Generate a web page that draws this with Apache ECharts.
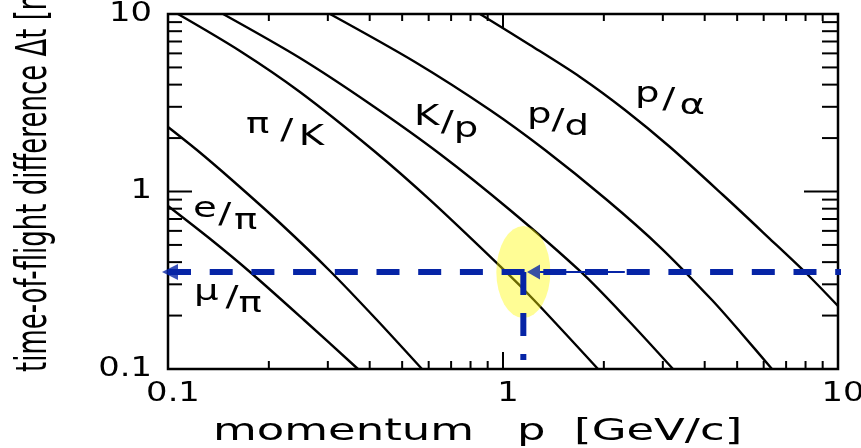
<!DOCTYPE html>
<html>
<head>
<meta charset="utf-8">
<script src="https://cdn.jsdelivr.net/npm/echarts@6/dist/echarts.min.js"></script>
<style>
  html, body { margin: 0; padding: 0; background: #fff; }
  #chart { width: 861px; height: 448px; }
</style>
</head>
<body>
<div id="chart"></div>
<script>
// Axis ranges (both logarithmic)
const momentumRange = [0.1, 10];   // GeV/c
const deltaTRange = [0.1, 10];     // ns
const majorTicks = [0.1, 1, 10];
const minorTicks = [0.2, 0.3, 0.4, 0.5, 0.6, 0.7, 0.8, 0.9, 2, 3, 4, 5, 6, 7, 8, 9];
const tickLabels = ['0.1', '1', '10'];

// Time-of-flight difference curves: [momentum, Δt]
const muPi = [[0.1, 0.829], [0.1326, 0.547], [0.1757, 0.352], [0.2547, 0.1888], [0.369, 0.1]];
const ePi = [[0.1, 2.31], [0.122, 1.713], [0.1552, 1.161], [0.2159, 0.6646], [0.3045, 0.3566], [0.4177, 0.1913], [0.573, 0.1]];
const piK = [[0.1071, 10], [0.164, 6.19], [0.2477, 3.636], [0.409, 1.713], [0.6054, 0.896], [1.021, 0.352], [1.237, 0.2446], [1.921, 0.1]];
const kP = [[0.146, 10], [0.2477, 5.65], [0.401, 3.112], [0.6485, 1.627], [1.049, 0.7866], [1.709, 0.352], [2.345, 0.1913], [3.217, 0.1]];
const pD = [[0.3045, 10], [0.5463, 5.365], [0.9146, 2.879], [1.335, 1.713], [2.044, 0.896], [2.943, 0.4867], [4.206, 0.2446], [5.169, 0.1575], [6.353, 0.1]];
const pAlpha = [[0.8537, 10], [1.204, 6.69], [1.698, 4.417], [2.313, 2.879], [3.151, 1.781], [4.537, 0.9556], [6.18, 0.554], [8.025, 0.3474], [10, 0.2265]];

// Working point: p ≈ 1.15 GeV/c, Δt ≈ 0.35 ns
const markerP = 1.15;
const markerDt = 0.352;
const markerDtEnd = 0.1124;
const guideP = [0.1, 12];
const arrowP = [0.1014, 1.233];
const connectorP = [1.29, 2.31];

const BLUE = '#0624a6';
const FONT = '"DejaVu Sans", sans-serif';

const chart = echarts.init(document.getElementById('chart'), null, { renderer: 'canvas' });

function curve(name, data) {
  return {
    name, type: 'line', data, symbol: 'none', smooth: 0.3,
    lineStyle: { color: '#000', width: 2.4 }, z: 3, silent: true
  };
}

function fractionLabel(num, den, x, y, padL, padR) {
  const base = { fontSize: 28, fontFamily: FONT, fill: '#000', lineHeight: 28 };
  return {
    type: 'text', x, y, scaleX: 1.38, silent: true,
    style: {
      text: '{n|' + num + '}{s|/}{d|' + den + '}',
      align: 'left', textAlign: 'left', verticalAlign: 'top', textVerticalAlign: 'top',
      rich: {
        n: Object.assign({}, base, { verticalAlign: 'top' }),
        s: Object.assign({}, base, { lineHeight: 40, verticalAlign: 'middle', padding: [0, padR, 0, padL] }),
        d: Object.assign({}, base, { verticalAlign: 'bottom' })
      }
    }
  };
}

function tickLine(x1, y1, x2, y2) {
  return { type: 'line', shape: { x1, y1, x2, y2 }, style: { stroke: '#000', lineWidth: 2 } };
}

const option = {
  animation: false,
  grid: {
    left: 168, right: 23, top: 14, bottom: 79,
    show: true, borderColor: '#000', borderWidth: 2.5, backgroundColor: 'transparent'
  },
  xAxis: {
    type: 'log', logBase: 10, min: momentumRange[0], max: momentumRange[1],
    axisLine: { show: false }, axisTick: { show: false }, axisLabel: { show: false }, splitLine: { show: false }
  },
  yAxis: {
    type: 'log', logBase: 10, min: deltaTRange[0], max: deltaTRange[1],
    axisLine: { show: false }, axisTick: { show: false }, axisLabel: { show: false }, splitLine: { show: false }
  },
  series: [
    curve('μ/π', muPi),
    curve('e/π', ePi),
    curve('π/K', piK),
    curve('K/p', kP),
    curve('p/d', pD),
    curve('p/α', pAlpha),
    {
      name: 'working point', type: 'scatter', data: [[markerP, markerDt]],
      symbol: 'circle', symbolSize: [54, 92], z: 4, silent: true,
      itemStyle: { color: 'rgba(255,251,0,0.52)' }
    },
    {
      name: 'Δt guide', type: 'line', data: [[guideP[0], markerDt], [guideP[1], markerDt]],
      symbol: 'none', clip: false, z: 5, silent: true,
      lineStyle: { color: BLUE, width: 6, type: [23, 18.7], cap: 'butt' }
    },
    {
      name: 'p guide', type: 'line', data: [[markerP, markerDt], [markerP, markerDtEnd]],
      symbol: 'none', clip: false, z: 5, silent: true,
      lineStyle: { color: BLUE, width: 6, type: [23, 18], cap: 'butt' }
    },
    {
      name: 'connector', type: 'line', data: [[connectorP[0], markerDt], [connectorP[1], markerDt]],
      symbol: 'none', clip: false, z: 5, silent: true,
      lineStyle: { color: BLUE, width: 2 }
    },
    {
      name: 'arrows', type: 'scatter', clip: false, z: 6, silent: true,
      symbol: 'triangle', symbolRotate: 90,
      data: [
        { value: [arrowP[0], markerDt], symbolSize: [16, 16] },
        { value: [arrowP[1], markerDt], symbolSize: [15, 13] }
      ],
      itemStyle: { color: BLUE }
    },
    {
      // ticks on the bottom and top edges
      name: 'x ticks', type: 'custom', clip: false, z: 7, silent: true,
      data: [1].concat(minorTicks).map(v => [v, 1]),
      renderItem: (params, api) => {
        const v = api.value(0);
        const major = majorTicks.indexOf(v) >= 0;
        const b = api.coord([v, deltaTRange[0]]);
        const t = api.coord([v, deltaTRange[1]]);
        return {
          type: 'group', children: [
            tickLine(b[0], b[1], b[0], b[1] - (major ? 17 : 8)),
            tickLine(t[0], t[1], t[0], t[1] + (major ? 15 : 7))
          ]
        };
      }
    },
    {
      // ticks on the left and right edges
      name: 'y ticks', type: 'custom', clip: false, z: 7, silent: true,
      data: [1].concat(minorTicks).map(v => [1, v]),
      renderItem: (params, api) => {
        const v = api.value(1);
        const major = majorTicks.indexOf(v) >= 0;
        const l = api.coord([momentumRange[0], v]);
        const r = api.coord([momentumRange[1], v]);
        return {
          type: 'group', children: [
            tickLine(l[0], l[1], l[0] + (major ? 24 : 14), l[1]),
            tickLine(r[0], r[1], r[0] - (major ? 34 : 16), r[1])
          ]
        };
      }
    },
    {
      name: 'x labels', type: 'custom', clip: false, z: 7, silent: true,
      data: majorTicks.map(v => [v, 1]),
      renderItem: (params, api) => {
        const c = api.coord([api.value(0), deltaTRange[0]]);
        return {
          type: 'text', x: c[0] + 5, y: c[1] + 25, scaleX: 1.3,
          style: {
            text: tickLabels[params.dataIndex], font: '26px ' + FONT, fill: '#000',
            align: 'center', textAlign: 'center', verticalAlign: 'middle', textVerticalAlign: 'middle'
          }
        };
      }
    },
    {
      name: 'y labels', type: 'custom', clip: false, z: 7, silent: true,
      data: majorTicks.map(v => [1, v]),
      renderItem: (params, api) => {
        const c = api.coord([momentumRange[0], api.value(1)]);
        return {
          type: 'text', x: c[0] - 16, y: c[1], scaleX: 1.3,
          style: {
            text: tickLabels[params.dataIndex], font: '26px ' + FONT, fill: '#000',
            align: 'right', textAlign: 'right', verticalAlign: 'middle', textVerticalAlign: 'middle'
          }
        };
      }
    }
  ],
  graphic: [
    {
      type: 'text', x: 213, y: 432, scaleX: 1.45, silent: true,
      style: {
        text: 'momentum   p  [GeV/c]', font: '31px ' + FONT, fill: '#000',
        align: 'left', textAlign: 'left', verticalAlign: 'middle', textVerticalAlign: 'middle'
      }
    },
    {
      type: 'text', x: 35, y: 372, rotation: Math.PI / 2, scaleY: 1.62, silent: true,
      style: {
        text: 'time-of-flight difference Δt [ns]', font: '26px ' + FONT, fill: '#000',
        align: 'left', textAlign: 'left', verticalAlign: 'middle', textVerticalAlign: 'middle'
      }
    },
    fractionLabel('π', 'K', 246, 112, 8, 4),
    fractionLabel('K', 'p', 414, 104, 1, 0),
    fractionLabel('p', 'd', 527, 102, 0, 0),
    fractionLabel('p', 'α', 635, 81, 2, 3),
    fractionLabel('e', 'π', 193, 196, 1, 2),
    fractionLabel('μ', 'π', 194, 279, 5, 0)
  ]
};

chart.setOption(option);
</script>
</body>
</html>
